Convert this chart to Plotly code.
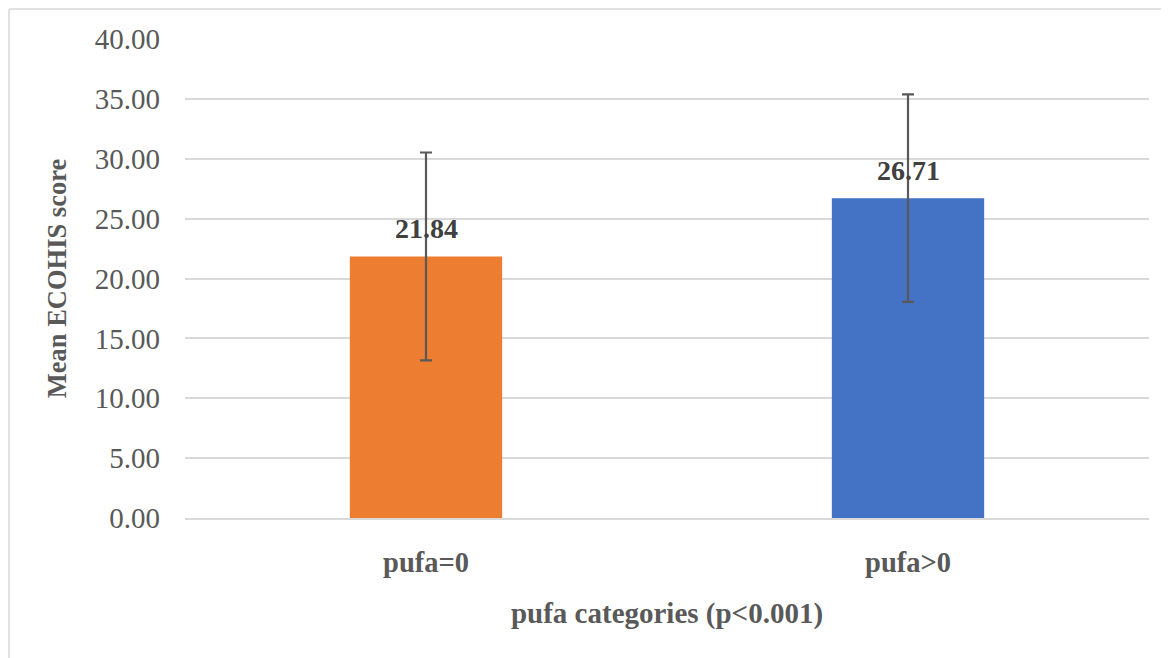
import plotly.graph_objects as go

categories = ["pufa=0", "pufa>0"]
means = [21.84, 26.71]
sds = [8.68, 8.66]
colors = ["#ED7D31", "#4472C4"]
tick_vals = [0, 5, 10, 15, 20, 25, 30, 35, 40]
tick_text = [f"{v:.2f}" for v in tick_vals]

FONT = "Liberation Serif, Times New Roman, serif"

fig = go.Figure()
fig.add_trace(go.Bar(
    x=categories, y=means,
    marker=dict(color=colors, line=dict(width=0)),
    width=0.316,
    error_y=dict(type="data", array=sds, visible=True, color="#595959", thickness=2.2, width=6),
    showlegend=False,
    hoverinfo="skip",
))

for c, m in zip(categories, means):
    fig.add_annotation(x=c, y=m, text=f"<b>{m:.2f}</b>", showarrow=False,
                       yanchor="bottom", yshift=10,
                       font=dict(family=FONT, size=28, color="#404040"))

# page has an 8px body margin; figure sized/margined to compensate
PL, PR, PT, PB = 185, 1149, 39, 518
pw, ph = PR - PL, PB - PT

def px(x):
    return (x - PL) / pw

def py(y):
    return (PB - y) / ph

frame = dict(color="#D9D9D9", width=1.5)
fig.update_layout(
    width=1161, height=650,
    margin=dict(l=177, r=1169 - PR, t=31, b=140),
    paper_bgcolor="white", plot_bgcolor="white",
    font=dict(family=FONT, color="#595959"),
    shapes=[
        dict(type="line", xref="paper", yref="paper", x0=px(9), x1=px(1175), y0=py(9), y1=py(9), line=frame, layer="below"),
        dict(type="line", xref="paper", yref="paper", x0=px(9), x1=px(9), y0=py(9), y1=py(665), line=frame, layer="below"),
    ],
)
fig.update_yaxes(
    range=[0, 40], tickvals=tick_vals, ticktext=tick_text,
    showgrid=True, gridcolor="#D9D9D9", gridwidth=1.5,
    zeroline=False, showline=False,
    tickfont=dict(family=FONT, size=29, color="#595959"),
    ticklabelstandoff=24,
    title=dict(text="<b>Mean ECOHIS score</b>", font=dict(family=FONT, size=26.5, color="#595959"), standoff=20),
)
fig.update_xaxes(
    showline=True, linecolor="#D9D9D9", linewidth=2,
    showgrid=False,
    tickfont=dict(family=FONT, size=28.5, color="#595959"),
    tickvals=categories, ticktext=[f"<b>{c}</b>" for c in categories],
    ticklabelstandoff=18,
    title=dict(text="<b>pufa categories (p<0.001)</b>", font=dict(family=FONT, size=29, color="#595959"), standoff=25),
)

fig.write_html("out.html")
